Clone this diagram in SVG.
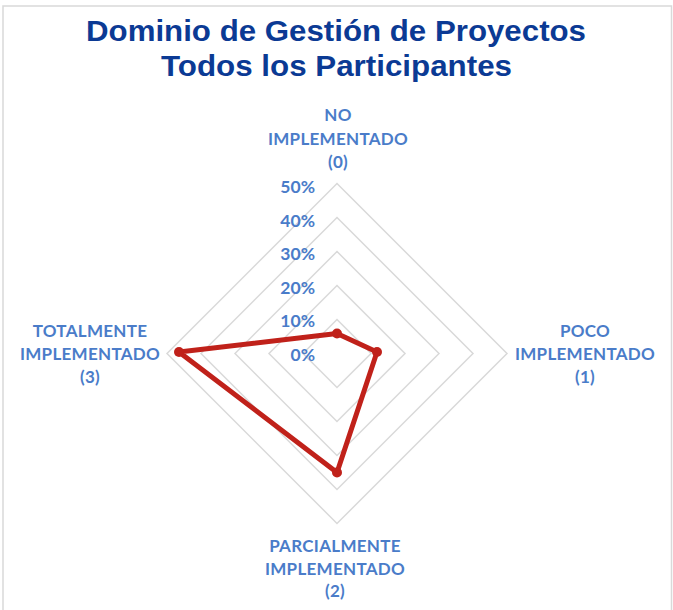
<svg xmlns="http://www.w3.org/2000/svg" width="673" height="610" viewBox="0 0 673 610">
<style>
.title{font-family:"Liberation Sans",Arial,sans-serif;font-weight:bold;font-size:29px;fill:#0b3a94;text-anchor:middle}
.cat{font-family:Lato,"Open Sans",sans-serif;font-weight:bold;font-size:17px;fill:#4a7cc9;text-anchor:middle;letter-spacing:0.3px}
.tick{font-family:Lato,"Open Sans",sans-serif;font-weight:bold;font-size:17.5px;fill:#4a7cc9;text-anchor:end}
.grid{fill:none;stroke:#d9d9d9;stroke-width:1.5}
.series{fill:none;stroke:#c0211a;stroke-width:5;stroke-linejoin:round}
.marker{fill:#c0211a}
</style>
<rect x="3" y="6" width="668.5" height="640" fill="#ffffff" stroke="#d9d9d9" stroke-width="1.5"/>
<g id="title">
<text class="title" x="336" y="41" textLength="500" lengthAdjust="spacingAndGlyphs">Dominio de Gestión de Proyectos</text>
<text class="title" x="336.5" y="76" textLength="351" lengthAdjust="spacingAndGlyphs">Todos los Participantes</text>
</g>
<g id="grid">
<polygon class="grid" points="337,319.5 371,353.5 337,387.5 303,353.5"/>
<polygon class="grid" points="337,285.5 405,353.5 337,421.5 269,353.5"/>
<polygon class="grid" points="337,251.5 439,353.5 337,455.5 235,353.5"/>
<polygon class="grid" points="337,217.5 473,353.5 337,489.5 201,353.5"/>
<polygon class="grid" points="337,183.5 507,353.5 337,523.5 167,353.5"/>
</g>
<g id="ticks">
<text class="tick" x="315" y="193">50%</text>
<text class="tick" x="315" y="226.5">40%</text>
<text class="tick" x="315" y="260">30%</text>
<text class="tick" x="315" y="293.5">20%</text>
<text class="tick" x="315" y="327">10%</text>
<text class="tick" x="315" y="361">0%</text>
</g>
<g id="cat-0">
<text class="cat" x="338" y="121">NO</text>
<text class="cat" x="338" y="145">IMPLEMENTADO</text>
<text class="cat" x="338" y="168">(0)</text>
</g>
<g id="cat-1">
<text class="cat" x="585" y="337">POCO</text>
<text class="cat" x="585" y="360">IMPLEMENTADO</text>
<text class="cat" x="585" y="383">(1)</text>
</g>
<g id="cat-2">
<text class="cat" x="335" y="552">PARCIALMENTE</text>
<text class="cat" x="335" y="575">IMPLEMENTADO</text>
<text class="cat" x="335" y="597">(2)</text>
</g>
<g id="cat-3">
<text class="cat" x="90" y="337">TOTALMENTE</text>
<text class="cat" x="90" y="360">IMPLEMENTADO</text>
<text class="cat" x="90" y="383">(3)</text>
</g>
<g id="connectors">
<polygon class="series" points="337,333.5 377,352 337,472.5 179,352"/>
</g>
<g id="markers">
<circle class="marker" cx="337" cy="333.5" r="5"/>
<circle class="marker" cx="377" cy="352" r="5"/>
<circle class="marker" cx="337" cy="472.5" r="5"/>
<circle class="marker" cx="179" cy="352" r="5"/>
</g>
</svg>
